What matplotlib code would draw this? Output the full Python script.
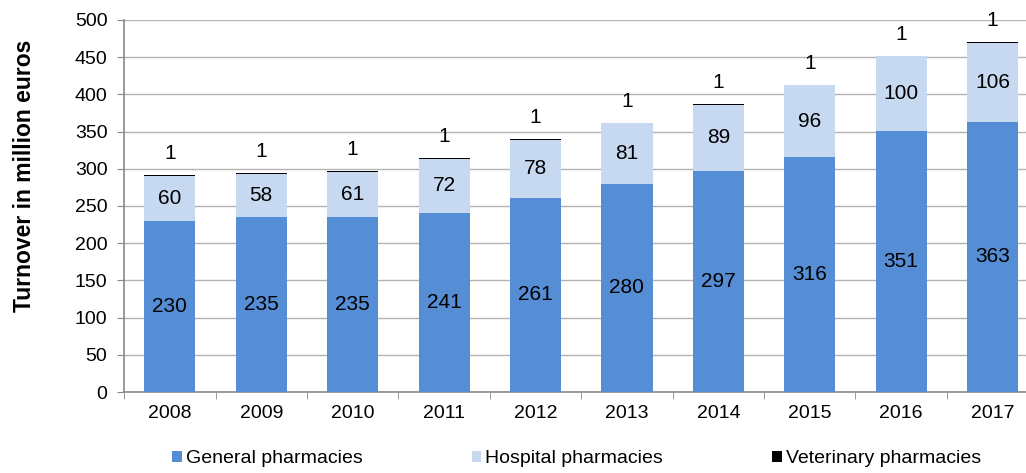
import matplotlib
matplotlib.use("Agg")
import matplotlib.pyplot as plt
import numpy as np

years = ["2008", "2009", "2010", "2011", "2012", "2013", "2014", "2015", "2016", "2017"]
general = [230, 235, 235, 241, 261, 280, 297, 316, 351, 363]
hospital = [60, 58, 61, 72, 78, 81, 89, 96, 100, 106]
veterinary = [1, 1, 1, 1, 1, 1, 1, 1, 1, 1]

plt.rcParams['font.family'] = ['Liberation Sans', 'DejaVu Sans']

fig = plt.figure(figsize=(10.26, 4.73), dpi=100)
ax = fig.add_axes([0.121, 0.171, 0.891, 0.787])

x = np.arange(len(years))
w = 0.56
c_gen = "#558ED5"
c_hos = "#C6D9F1"
c_vet = "#000000"

g = np.array(general)
h = np.array(hospital)
v = np.array(veterinary)

ax.bar(x, g, w, color=c_gen, label="General pharmacies", zorder=3)
ax.bar(x, h, w, bottom=g, color=c_hos, label="Hospital pharmacies", zorder=3)
ax.bar(x, v, w, bottom=g + h, color=c_vet, label="Veterinary pharmacies", zorder=3)

for i in range(len(years)):
    ax.text(x[i], g[i] / 2, str(general[i]), ha="center", va="center", fontsize=15, zorder=4)
    ax.text(x[i], g[i] + h[i] / 2, str(hospital[i]), ha="center", va="center", fontsize=15, zorder=4)
    ax.text(x[i], g[i] + h[i] + v[i] + 29, str(veterinary[i]), ha="center", va="center", fontsize=15, zorder=4)

ax.set_ylim(0, 500)
ax.set_yticks(np.arange(0, 501, 50))
ax.set_xlim(-0.5, len(years) - 0.5)
ax.set_xticks(x)
ax.set_xticklabels(years)
ax.set_xticks(np.arange(-0.5, len(years), 1), minor=True)
ax.tick_params(axis="x", which="major", length=0, labelsize=14, pad=9)
ax.tick_params(axis="x", which="minor", length=5, color="#898989", direction="out")
ax.tick_params(axis="y", length=5, color="#898989", labelsize=14, pad=7)

ax.yaxis.grid(True, color="#B3B3B3", linewidth=1, zorder=0)
ax.set_axisbelow(True)
for s in ["top", "right"]:
    ax.spines[s].set_visible(False)
for s in ["left", "bottom"]:
    ax.spines[s].set_color("#898989")
    ax.spines[s].set_linewidth(1.2)

ax.set_ylabel("Turnover in million euros", fontsize=16.5, fontweight="bold")
ax.yaxis.set_label_coords(-0.096, 0.58)

leg = fig.legend(loc="center", bbox_to_anchor=(0.562, 0.03), ncol=3, frameon=False,
                 fontsize=14, handlelength=0.5, handleheight=0.5, handletextpad=0.2,
                 columnspacing=5.6)

fig.savefig("out.png", dpi=100)
